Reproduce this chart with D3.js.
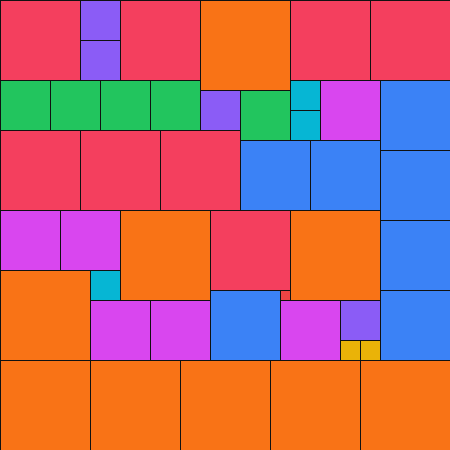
<!DOCTYPE html>
<html>
<head>
<meta charset="utf-8">
<script src="https://cdn.jsdelivr.net/npm/d3@7"></script>
<style>
  html, body { margin: 0; padding: 0; background: #fff; }
  svg { display: block; }
</style>
</head>
<body>
<svg id="chart" width="450" height="450"></svg>
<script>
// Square sides (grid units), in packing order
const sizes = [8, 4, 8, 9, 8, 8, 4, 5, 5, 5, 5, 3, 6, 7, 4, 5, 3, 8, 8, 8, 7, 7, 7,
               6, 6, 9, 8, 9, 7, 9, 3, 7, 1, 7, 6, 6, 6, 4, 2, 2, 9, 9, 9, 9, 9];
// Colour categories keyed by side length
const sideKeys = [1, 2, 3, 4, 5, 6, 7, 8, 9];
const sideColors = ["#ef4444", "#eab308", "#06b6d4", "#8b5cf6", "#22c55e",
                    "#d946ef", "#3b82f6", "#f43f5e", "#f97316"];
const gridSize = 45;

// Skyline bottom-left packing
function pack(items, W) {
  let sky = [{x: 0, w: W, y: 0}];
  const out = [];
  items.forEach((s, i) => {
    let best = null;
    for (let k = 0; k < sky.length; k++) {
      const x0 = sky[k].x;
      if (x0 + s > W) continue;
      let y = 0;
      for (const seg of sky) {
        if (seg.x < x0 + s && seg.x + seg.w > x0) y = Math.max(y, seg.y);
      }
      if (!best || y < best.y || (y === best.y && x0 < best.x)) best = {x: x0, y};
    }
    out.push({i, side: s, x: best.x, y: best.y});
    // update skyline
    const nx0 = best.x, nx1 = best.x + s, ny = best.y + s;
    const ns = [];
    sky.forEach(seg => {
      const a = seg.x, b = seg.x + seg.w;
      if (b <= nx0 || a >= nx1) { ns.push(seg); return; }
      if (a < nx0) ns.push({x: a, w: nx0 - a, y: seg.y});
      if (b > nx1) ns.push({x: nx1, w: b - nx1, y: seg.y});
    });
    ns.push({x: nx0, w: s, y: ny});
    ns.sort((p, q) => p.x - q.x);
    // merge equal heights
    sky = [];
    ns.forEach(seg => {
      const last = sky[sky.length - 1];
      if (last && last.y === seg.y && last.x + last.w === seg.x) last.w += seg.w;
      else sky.push({...seg});
    });
  });
  return out;
}

const cells = pack(sizes, gridSize);

const x = d3.scaleLinear().domain([0, gridSize]).range([0, 450]);
const y = d3.scaleLinear().domain([0, gridSize]).range([0, 450]);
const color = d3.scaleOrdinal().domain(sideKeys).range(sideColors);

const svg = d3.select("#chart");
svg.selectAll("rect.cell")
  .data(cells)
  .join("rect")
  .attr("class", "cell")
  .attr("x", d => x(d.x))
  .attr("y", d => y(d.y))
  .attr("width", d => x(d.x + d.side) - x(d.x))
  .attr("height", d => y(d.y + d.side) - y(d.y))
  .attr("fill", d => color(d.side))
  .attr("stroke", "#111")
  .attr("stroke-width", 1)
  .attr("shape-rendering", "crispEdges");
</script>
</body>
</html>
